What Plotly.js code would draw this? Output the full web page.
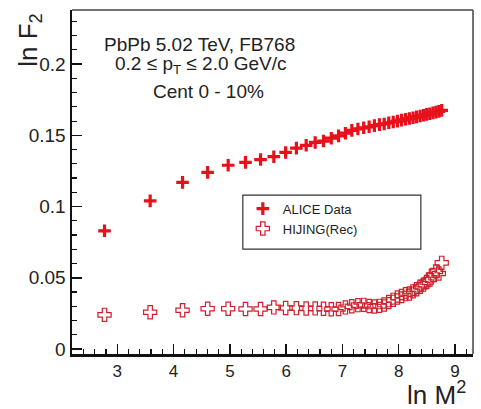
<!DOCTYPE html>
<html>
<head>
<meta charset="utf-8">
<script src="https://cdn.plot.ly/plotly-3.0.1.min.js"></script>
<style>html,body{margin:0;padding:0;background:#fff;}#chart{width:481px;height:409px;}</style>
</head>
<body>
<div id="chart"></div>
<script>
// ln M^2 bin centres
const lnM2 = [2.773, 3.584, 4.159, 4.605, 4.970, 5.278, 5.545, 5.781, 5.991, 6.182,
  6.356, 6.516, 6.664, 6.802, 6.931, 7.053, 7.167, 7.275, 7.378, 7.475,
  7.568, 7.657, 7.742, 7.824, 7.903, 7.978, 8.051, 8.122, 8.189, 8.255,
  8.318, 8.380, 8.440, 8.497, 8.553, 8.608, 8.661, 8.713, 8.764];
// ALICE Data ln F2
const aliceF2 = [0.083, 0.104, 0.117, 0.124, 0.129, 0.131, 0.133, 0.135, 0.138, 0.141,
  0.143, 0.145, 0.146, 0.148, 0.1496, 0.1515, 0.1535, 0.1545, 0.1553, 0.156,
  0.1568, 0.1575, 0.158, 0.1588, 0.1594, 0.160, 0.1607, 0.1613, 0.1618, 0.1624,
  0.163, 0.1636, 0.1641, 0.1647, 0.1652, 0.1658, 0.1663, 0.1668, 0.1675];
// HIJING(Rec) ln F2
const hijingF2 = [0.0240, 0.0258, 0.0272, 0.0283, 0.0283, 0.0281, 0.0281, 0.0292, 0.0288, 0.0287,
  0.0284, 0.0285, 0.0283, 0.0279, 0.0281, 0.0292, 0.0300, 0.0308, 0.0310, 0.0302,
  0.0298, 0.0303, 0.0312, 0.0330, 0.0345, 0.0362, 0.0372, 0.0385, 0.0390, 0.0405,
  0.0420, 0.0437, 0.0452, 0.0470, 0.0488, 0.0520, 0.0545, 0.0530, 0.0605];

const seriesNames = ["ALICE Data", "HIJING(Rec)"];
const xTitle = "ln M<sup>2</sup>";
const yTitle = "ln F<sub>2</sub>";
const infoLines = ["PbPb 5.02 TeV, FB768", "0.2 \u2264 p<sub>T</sub> \u2264 2.0 GeV/c", "Cent 0 - 10%"];

const FONT = "Liberation Sans, Arial, Helvetica, sans-serif";

const traces = [
  {
    x: lnM2, y: aliceF2, name: seriesNames[0], type: "scatter", mode: "markers",
    marker: {symbol: "cross-thin", size: 9, color: "#e8101a", line: {width: 3.2, color: "#e8101a"}}
  },
  {
    x: lnM2, y: hijingF2, name: seriesNames[1], type: "scatter", mode: "markers",
    marker: {symbol: "cross-open", size: 11, color: "#cf1f2b", line: {width: 1.2, color: "#cf1f2b"}}
  }
];

const layout = {
  width: 481, height: 409,
  margin: {l: 72, r: 8, t: 10, b: 55},
  paper_bgcolor: "#ffffff", plot_bgcolor: "#ffffff",
  font: {family: FONT, color: "#222"},
  showlegend: true,
  legend: {
    x: 0.426, y: 0.466, xanchor: "left", yanchor: "top",
    bgcolor: "rgba(0,0,0,0)", borderwidth: 0,
    font: {family: FONT, size: 13, color: "#222"},
    tracegroupgap: 0
  },
  xaxis: {
    range: [2.195, 9.32], showgrid: false, zeroline: false,
    showline: true, linecolor: "#111", linewidth: 2.5,
    ticks: "inside", ticklen: 10, tickwidth: 1.5, tickcolor: "#111",
    dtick: 1, tick0: 0,
    tickfont: {family: FONT, size: 17, color: "#222"},
    minor: {dtick: 0.2, ticks: "inside", ticklen: 5, tickwidth: 1.2, tickcolor: "#111"}
  },
  yaxis: {
    range: [-0.0035, 0.238], showgrid: false, zeroline: false,
    showline: true, linecolor: "#111", linewidth: 2.5,
    ticks: "inside", ticklen: 10, tickwidth: 1.5, tickcolor: "#111",
    dtick: 0.05, tick0: 0,
    tickfont: {family: FONT, size: 19, color: "#222"},
    minor: {dtick: 0.01, ticks: "inside", ticklen: 5, tickwidth: 1.2, tickcolor: "#111"}
  },
  shapes: [
    {type: "line", xref: "paper", yref: "paper", x0: 0, x1: 1, y0: 1, y1: 1, line: {color: "#444", width: 1.5}},
    {type: "line", xref: "paper", yref: "paper", x0: 1, x1: 1, y0: 0, y1: 1, line: {color: "#444", width: 1.5}},
    {type: "rect", xref: "paper", yref: "paper", x0: 0.426, x1: 0.870, y0: 0.305, y1: 0.462, line: {color: "#333", width: 1.2}, fillcolor: "rgba(0,0,0,0)"}
  ],
  annotations: [
    {text: yTitle, xref: "paper", yref: "paper", x: -0.105, y: 0.913, textangle: -90, showarrow: false,
     xanchor: "center", yanchor: "middle", font: {family: FONT, size: 26, color: "#222"}},
    {text: xTitle, xref: "paper", yref: "paper", x: 0.988, y: -0.115, showarrow: false,
     xanchor: "right", yanchor: "middle", font: {family: FONT, size: 26, color: "#222"}},
    {text: infoLines[0], xref: "paper", yref: "paper", x: 0.319, y: 0.900, showarrow: false,
     xanchor: "center", yanchor: "middle", font: {family: FONT, size: 19, color: "#222"}},
    {text: infoLines[1], xref: "paper", yref: "paper", x: 0.322, y: 0.840, showarrow: false,
     xanchor: "center", yanchor: "middle", font: {family: FONT, size: 19, color: "#222"}},
    {text: infoLines[2], xref: "paper", yref: "paper", x: 0.340, y: 0.763, showarrow: false,
     xanchor: "center", yanchor: "middle", font: {family: FONT, size: 19, color: "#222"}}
  ]
};

Plotly.newPlot("chart", traces, layout, {displayModeBar: false, staticPlot: true});
</script>
</body>
</html>
